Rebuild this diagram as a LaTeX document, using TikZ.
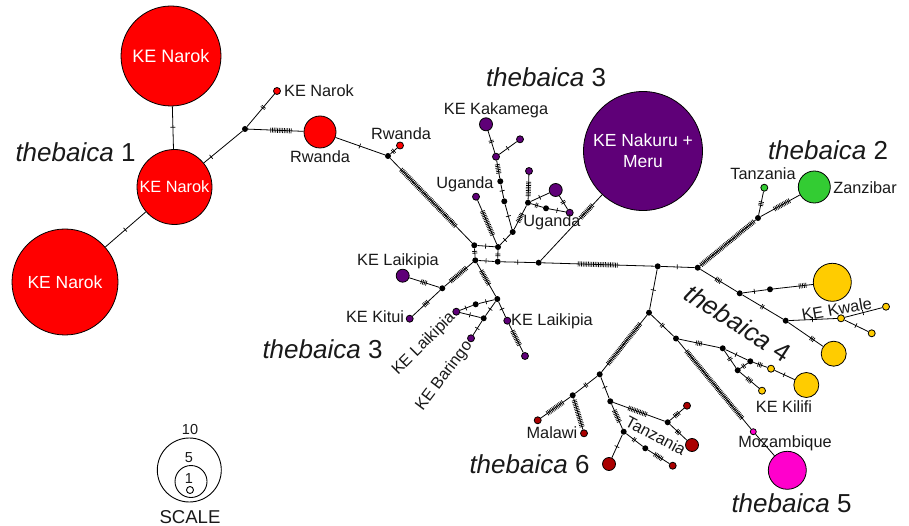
\documentclass[tikz,border=0pt]{standalone}
\usepackage{fontspec}
\setmainfont{Liberation Sans}
\definecolor{hred}{HTML}{FF0000}
\definecolor{hpurple}{HTML}{5F0078}
\definecolor{hgreen}{HTML}{33CC33}
\definecolor{hyellow}{HTML}{FFCC00}
\definecolor{hmag}{HTML}{FF00CC}
\definecolor{hdark}{HTML}{AA0000}
\newcount\tkc
\newcommand\tk[1]{\hbox{\tkc=#1\relax\loop\ifnum\tkc>0 \vrule width .7pt height 2.5pt depth 2.5pt\kern 1pt\advance\tkc by -1 \repeat}}
\tikzset{
  hap/.style={circle,draw=black,line width=.8pt,inner sep=0pt},
  hub/.style={circle,fill=black,inner sep=0pt,minimum size=6pt},
  tiny/.style={hap,minimum size=7pt},
  small/.style={hap,minimum size=13pt},
  link/.style={line width=.8pt,black},
  tick/.style={sloped,inner sep=0pt,anchor=center},
  lab/.style={font=\fontsize{16.3}{19}\selectfont,inner sep=0pt,text=black!90,text height=11.7pt,text depth=0pt},
  slab/.style={font=\fontsize{14.5}{17}\selectfont,inner sep=0pt,text=black!90},
  wlab/.style={font=\fontsize{17.5}{21}\selectfont,text=white,align=center},
  big/.style={font=\fontsize{26}{30}\selectfont,inner sep=0pt,text=black!90},
}
\newcommand\ed[4]{\draw[link] (#1) -- node[tick,pos=#4]{\tk{#3}} (#2);}
\begin{document}
\begin{tikzpicture}[x=1pt,y=-1pt]
\useasboundingbox (0,0) rectangle (909,526);
% red
\node[hap,fill=hred,minimum size=100pt,wlab,font=\fontsize{18}{21}\selectfont] (n1) at (171,56) {KE Narok};
\node[hap,fill=hred,minimum size=75pt,wlab,font=\fontsize{16.3}{19}\selectfont] (n2) at (174.5,187) {KE Narok};
\node[hap,fill=hred,minimum size=106pt,wlab] (n3) at (65,282) {KE Narok};
\node[tiny,fill=hred] (r1) at (277,91) {};
\node[hap,fill=hred,minimum size=32pt] (r2) at (320,132) {};
\node[tiny,fill=hred] (r3) at (400,145.5) {};
\node[hub] (h1) at (245,129) {};
\node[hub] (h2) at (388,156) {};
% purple
\node[hap,fill=hpurple,minimum size=119pt,wlab] (p0) at (643,151) {KE Nakuru +\\Meru};
\node[small,fill=hpurple] (p1) at (486,124.3) {};
\node[tiny,fill=hpurple] (p2) at (496,156.7) {};
\node[tiny,fill=hpurple] (p3) at (520,139.3) {};
\node[tiny,fill=hpurple] (p4) at (476,196.7) {};
\node[tiny,fill=hpurple] (p5) at (529,171) {};
\node[small,fill=hpurple] (p6) at (555.7,190) {};
\node[tiny,fill=hpurple] (p7) at (569.7,212.7) {};
\node[small,fill=hpurple] (p8) at (402.7,275.7) {};
\node[tiny,fill=hpurple] (p9) at (409.7,318.7) {};
\node[tiny,fill=hpurple] (p10) at (456.3,311.7) {};
\node[tiny,fill=hpurple] (p11) at (471,338.3) {};
\node[tiny,fill=hpurple] (p12) at (507.3,320.7) {};
\node[tiny,fill=hpurple] (p13) at (525,356) {};
\node[hub] (a) at (474.3,245.3) {};
\node[hub] (b) at (498,247) {};
\node[hub] (c) at (475.3,260.3) {};
\node[hub] (d) at (497.7,261.7) {};
\node[hub] (e) at (538.7,262.7) {};
\node[hub] (f) at (512.7,232) {};
\node[hub] (g) at (504.3,201.3) {};
\node[hub] (h) at (500.3,181.3) {};
\node[hub] (j) at (528,202.7) {};
\node[hub] (k) at (546,208.3) {};
\node[hub] (l) at (442.3,288.3) {};
\node[hub] (m) at (497.3,299) {};
\node[hub] (n) at (475.7,304.3) {};
\node[hub] (o) at (483.7,318.3) {};
% green
\node[tiny,fill=hgreen] (g1) at (764.3,187.7) {};
\node[hap,fill=hgreen,minimum size=32pt] (g2) at (814.3,187) {};
% yellow
\node[hap,fill=hyellow,minimum size=38pt] (y1) at (832.3,282.3) {};
\node[tiny,fill=hyellow] (y2) at (841,318.3) {};
\node[tiny,fill=hyellow] (y3) at (886,306.7) {};
\node[tiny,fill=hyellow] (y4) at (871.7,333.3) {};
\node[hap,fill=hyellow,minimum size=25pt] (y5) at (833.7,353.7) {};
\node[tiny,fill=hyellow] (y6) at (771,368.7) {};
\node[hap,fill=hyellow,minimum size=25pt] (y7) at (806.3,385) {};
\node[tiny,fill=hyellow] (y8) at (762,390.7) {};
% magenta
\node[tiny,fill=hmag,minimum size=6pt] (m1) at (753.3,431.7) {};
\node[hap,fill=hmag,minimum size=38pt] (m2) at (787.3,470.3) {};
% dark
\node[tiny,fill=hdark] (d1) at (537.7,420.3) {};
\node[tiny,fill=hdark] (d2) at (584,433.3) {};
\node[tiny,fill=hdark] (d3) at (687,405.7) {};
\node[small,fill=hdark] (d4) at (692,445) {};
\node[small,fill=hdark] (d5) at (609,464) {};
\node[tiny,fill=hdark] (d6) at (672.7,465.7) {};
\node[hub] (pp) at (657.7,266.3) {};
\node[hub] (q) at (697.7,267.7) {};
\node[hub] (rr) at (758,218) {};
\node[hub] (s) at (739.7,293.3) {};
\node[hub] (t) at (770,289.3) {};
\node[hub] (u) at (785.7,320.7) {};
\node[hub] (v) at (649,312.7) {};
\node[hub] (w) at (676,338.5) {};
\node[hub] (x) at (722.7,348.3) {};
\node[hub] (yy) at (750.3,361.3) {};
\node[hub] (z) at (737.7,370.3) {};
\node[hub] (aa) at (599.7,374.3) {};
\node[hub] (ab) at (572.7,395.3) {};
\node[hub] (ac) at (610.3,401.3) {};
\node[hub] (ad) at (623.7,431.7) {};
\node[hub] (ae) at (667.7,422.3) {};
\node[hub] (af) at (645.3,448.3) {};
% edges
\ed{n1}{n2}{1}{.5}
\ed{n2}{n3}{1}{.5}
\ed{n2}{h1}{1}{.2}
\ed{h1}{r1}{2}{.6}
\ed{h1}{r2}{13}{.6}
\ed{r2}{h2}{1}{.5}
\ed{h2}{r3}{2}{.5}
\ed{h2}{a}{47}{.47}
\ed{a}{b}{1}{.5}
\ed{a}{c}{2}{.5}
\ed{b}{d}{2}{.5}
\ed{c}{d}{1}{.5}
\ed{d}{e}{1}{.5}
\ed{b}{f}{1}{.5}
\ed{f}{g}{1}{.5}
\ed{g}{h}{1}{.5}
\ed{h}{p2}{6}{.5}
\ed{p2}{p1}{2}{.5}
\ed{p2}{p3}{1}{.5}
\ed{f}{j}{6}{.5}
\ed{j}{p5}{9}{.45}
\ed{j}{p6}{1}{.5}
\ed{j}{k}{2}{.5}
\ed{k}{p7}{1}{.5}
\ed{p6}{p7}{2}{.5}
\ed{b}{p4}{16}{.47}
\ed{e}{p0}{11}{.75}
\ed{e}{pp}{24}{.5}
\ed{pp}{q}{1}{.5}
\ed{q}{rr}{41}{.5}
\ed{rr}{g1}{3}{.5}
\ed{rr}{g2}{11}{.55}
\ed{q}{s}{4}{.5}
\ed{s}{t}{1}{.5}
\ed{t}{y1}{5}{.75}
\ed{s}{u}{2}{.5}
\ed{u}{y2}{1}{.5}
\ed{y2}{y3}{1}{.5}
\ed{y2}{y4}{1}{.5}
\ed{u}{y5}{3}{.7}
\ed{pp}{v}{1}{.5}
\ed{v}{w}{2}{.5}
\ed{w}{x}{4}{.5}
\ed{w}{m1}{52}{.5}
\ed{m1}{m2}{1}{.3}
\ed{x}{yy}{1}{.5}
\ed{x}{z}{2}{.5}
\ed{yy}{z}{2}{.5}
\ed{yy}{y6}{3}{.5}
\ed{y6}{y7}{1}{.5}
\ed{z}{y8}{4}{.5}
\ed{v}{aa}{31}{.5}
\ed{aa}{ab}{2}{.5}
\ed{ab}{d1}{12}{.5}
\ed{ab}{d2}{17}{.5}
\ed{aa}{ac}{1}{.5}
\ed{ac}{ae}{12}{.48}
\ed{ac}{ad}{8}{.5}
\ed{ad}{d5}{1}{.5}
\ed{ad}{af}{2}{.5}
\ed{af}{d6}{6}{.5}
\ed{ae}{d3}{4}{.5}
\ed{ae}{d4}{3}{.5}
\ed{c}{l}{13}{.5}
\ed{l}{p8}{4}{.5}
\ed{l}{p9}{4}{.5}
\ed{c}{m}{10}{.45}
\ed{m}{n}{1}{.5}
\ed{n}{p10}{1}{.5}
\ed{m}{o}{1}{.5}
\ed{o}{p10}{1}{.5}
\ed{o}{p11}{1}{.5}
\ed{m}{p12}{1}{.5}
\ed{p12}{p13}{10}{.5}
% labels
\node[lab] (t1) at (319,91) {KE Narok};
\node[lab] (t2) at (320,157) {Rwanda};
\node[lab] (t3) at (401,134) {Rwanda};
\node[lab] (t4) at (496,109) {KE Kakamega};
\node[lab] (t5) at (465,183) {Uganda};
\node[lab] (t6) at (552,220.5) {Uganda};
\node[lab] (t7) at (763,174) {Tanzania};
\node[lab] (t8) at (865,188) {Zanzibar};
\node[lab] (t9) at (398,260) {KE Laikipia};
\node[lab] (t10) at (375,317) {KE Kitui};
\node[lab] (t11) at (552,320) {KE Laikipia};
\node[lab,rotate=45] (t12) at (422.7,343) {KE Laikipia};
\node[lab,rotate=53] (t13) at (443,375) {KE Baringo};
\node[lab,rotate=10] (t14) at (836.7,309) {KE Kwale};
\node[lab] (t15) at (784,407) {KE Kilifi};
\node[lab] (t16) at (785,442) {Mozambique};
\node[lab] (t17) at (552,433) {Malawi};
\node[lab,rotate=-28] (t18) at (655.7,435.7) {Tanzania};
\node[big] (b1) at (75.5,152) {\textit{thebaica} 1};
\node[big] (b2) at (546,77) {\textit{thebaica} 3};
\node[big] (b3) at (828,150) {\textit{thebaica} 2};
\node[big] (b4) at (322.5,349) {\textit{thebaica} 3};
\node[big,rotate=-33] (b5) at (738,323) {\textit{thebaica} 4};
\node[big] (b6) at (791.5,503) {\textit{thebaica} 5};
\node[big] (b7) at (529.5,464) {\textit{thebaica} 6};
% scale
\draw[line width=.9pt] (189.3,470) circle[radius=32];
\draw[line width=.9pt] (191,481.5) circle[radius=16];
\draw[line width=.9pt] (190,490) circle[radius=3.5];
\node[slab] (s1) at (190,430) {10};
\node[slab] (s2) at (189,458) {5};
\node[slab] (s3) at (189,479) {1};
\node[lab,font=\fontsize{18.6}{22}\selectfont,text height=13.3pt] (s4) at (190,517) {SCALE};
\end{tikzpicture}
\end{document}
